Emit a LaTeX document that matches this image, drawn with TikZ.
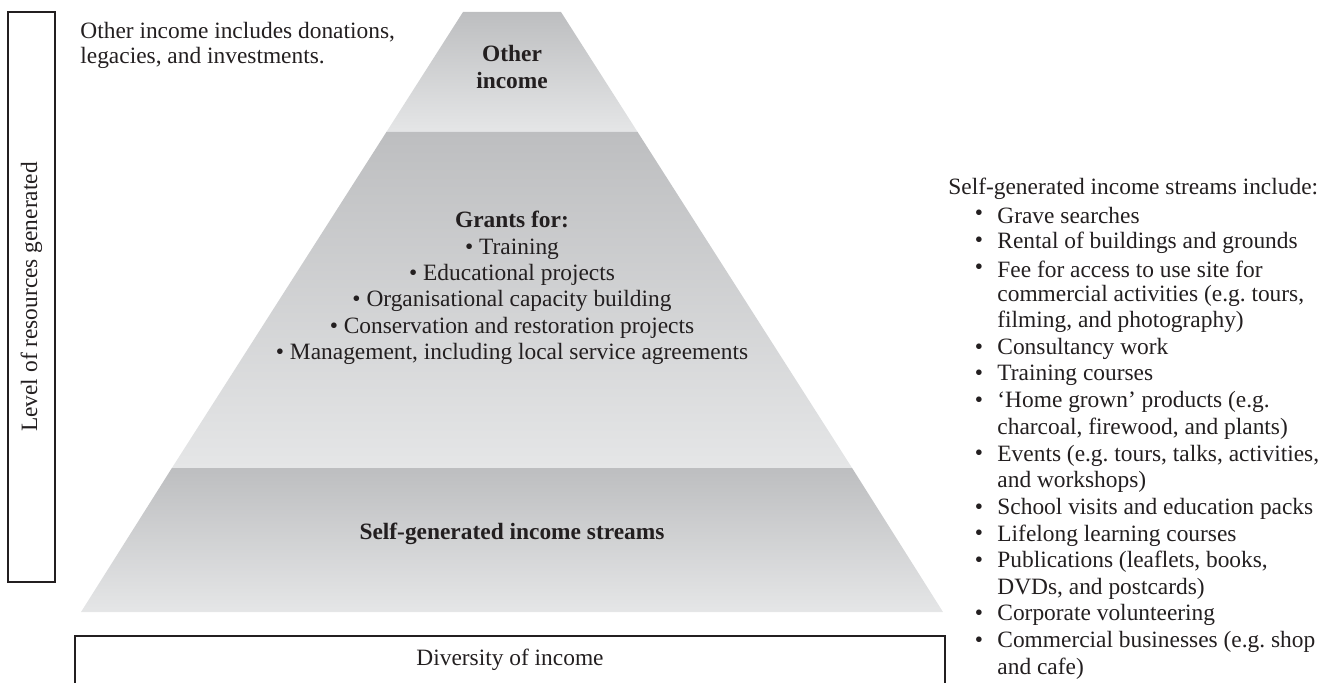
\documentclass[tikz,border=0pt]{standalone}
\usepackage{fontspec}
\setmainfont{Liberation Serif}
\usetikzlibrary{positioning}

\definecolor{inkgray}{RGB}{35,31,32}
\definecolor{bandtop}{RGB}{189,190,192}
\definecolor{bandbot}{RGB}{229,230,231}

\begin{document}
\begin{tikzpicture}[x=0.5pt,y=-0.5pt,
    every node/.style={inner sep=0pt, text=inkgray,
      font=\fontsize{11.7pt}{13.2pt}\selectfont},
    band/.style={top color=bandtop, bottom color=bandbot, draw=none},
    frame/.style={draw=inkgray, line width=1pt}]
  \useasboundingbox (0,0) rectangle (1320,683);

  % Pyramid bands
  \shade[band] (463,12) -- (561,12) -- (637.6,132) -- (386.4,132) -- cycle;
  \shade[band] (386.4,132) -- (637.6,132) -- (852.1,468) -- (171.9,468) -- cycle;
  \shade[band] (171.9,468) -- (852.1,468) -- (943,612) -- (81,612) -- cycle;

  % Band labels
  \node[align=center, font=\bfseries\fontsize{11.7pt}{13.5pt}\selectfont] (other) at (512,67) {Other\\income};
  \node[align=center] (grants) at (512,288) {\textbf{Grants for:}\\
    \textbullet\ Training\\
    \textbullet\ Educational projects\\
    \textbullet\ Organisational capacity building\\
    \textbullet\ Conservation and restoration projects\\
    \textbullet\ Management, including local service agreements};
  \node[font=\bfseries\fontsize{11.7pt}{13.5pt}\selectfont] (selfgen) at (512,534) {Self-generated income streams};

  % Axes boxes
  \node[frame, rotate=90, minimum width=285pt, minimum height=23.5pt] (level) at (31.5,297) {Level of resources generated};
  \node[frame, minimum width=435pt, minimum height=24pt] (diversity) at (510,660) {Diversity of income};

  % Side notes
  \node[anchor=west, align=left, font=\fontsize{11.7pt}{12.5pt}\selectfont] (othernote) at (80,45) {Other income includes donations,\\legacies, and investments.};
  \node[anchor=west] (selfnote) at (948,189) {Self-generated income streams include:};
  \foreach \i/\b/\t in {1/1/{Grave searches},
      2/1/{Rental of buildings and grounds},
      3/1/{Fee for access to use site for},
      4/0/{commercial activities (e.g.\ tours,},
      5/0/{filming, and photography)},
      6/1/{Consultancy work},
      7/1/{Training courses},
      8/1/{`Home grown' products (e.g.},
      9/0/{charcoal, firewood, and plants)},
      10/1/{Events (e.g.\ tours, talks, activities,},
      11/0/{and workshops)},
      12/1/{School visits and education packs},
      13/1/{Lifelong learning courses},
      14/1/{Publications (leaflets, books,},
      15/0/{DVDs, and postcards)},
      16/1/{Corporate volunteering},
      17/1/{Commercial businesses (e.g.\ shop},
      18/0/{and cafe)}} {
    \node[anchor=west] (item\i) at (997,{189+26.65*\i}) {\t};
    \ifnum\b=1 \node (bullet\i) at (979,{189+26.65*\i}) {\textbullet};\fi
  }
\end{tikzpicture}
\end{document}
